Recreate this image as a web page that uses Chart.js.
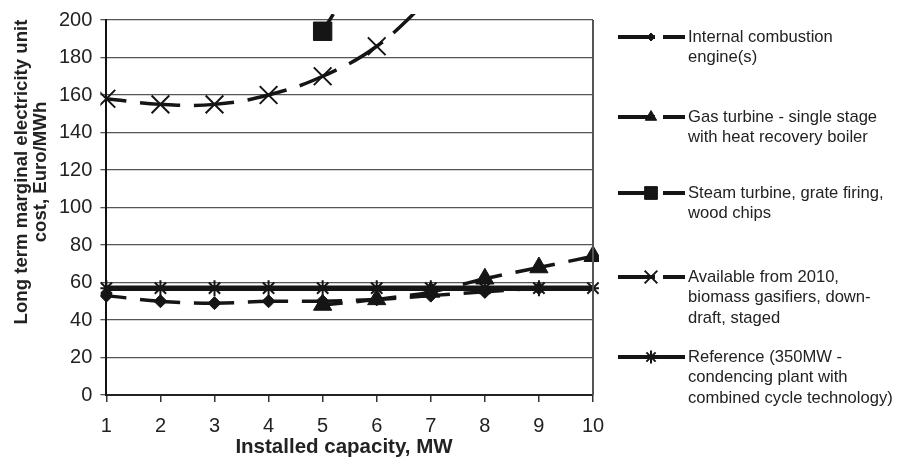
<!DOCTYPE html>
<html>
<head>
<meta charset="utf-8">
<script src="https://cdn.jsdelivr.net/npm/chart.js@4.4.1/dist/chart.umd.min.js"></script>
<style>
    html, body { margin: 0; padding: 0; background: #fff; }
</style>
</head>
<body>
<canvas id="graphCout" width="905" height="459"></canvas>
<script>
// Données
var capacite = ['1', '2', '3', '4', '5', '6', '7', '8', '9', '10'];
var moteur = [53, 50, 49, 50, 50, 51, 53, 55, 57, null];
var turbineGaz = [null, null, null, null, 48, 51, 55, 62, 68, 74];
var turbineVapeur = [null, null, null, null, 194, 240, null, null, null, null];
var gazeifieur = [158, 155, 155, 160, 170, 186, 212, null, null, null];
var reference = [57, 57, 57, 57, 57, 57, 57, 57, 57, 57];

var legendes = [
    ['Internal combustion', 'engine(s)'],
    ['Gas turbine - single stage', 'with heat recovery boiler'],
    ['Steam turbine, grate firing,', 'wood chips'],
    ['Available from 2010,', 'biomass gasifiers, down-', 'draft, staged'],
    ['Reference (350MW -', 'condencing plant with', 'combined cycle technology)']
];
var titreY = ['Long term marginal electricity unit', 'cost, Euro/MWh'];
var titreX = 'Installed capacity, MW';

var noir = '#151515';
var police = '"Liberation Sans", Arial, sans-serif';

//------------------------------------------------------------------------------------------------------------------------
// Légende à droite, titres des axes et bordure droite dessinés à la main
var pluginDecor = {
    id: 'decor',
    afterDraw: function (chart) {
        var ctx = chart.ctx;
        var area = chart.chartArea;
        ctx.save();

        // bordure droite
        ctx.strokeStyle = '#555';
        ctx.lineWidth = 2;
        ctx.beginPath();
        ctx.moveTo(area.right, area.top);
        ctx.lineTo(area.right, area.bottom);
        ctx.stroke();

        // titre axe Y (deux lignes)
        ctx.fillStyle = '#222';
        ctx.font = 'bold 18.6px ' + police;
        ctx.textAlign = 'center';
        ctx.textBaseline = 'middle';
        var xs = [22, 41];
        for (var t = 0; t < titreY.length; t++) {
            ctx.save();
            ctx.translate(xs[t], 172);
            ctx.rotate(-Math.PI / 2);
            ctx.fillText(titreY[t], 0, 0);
            ctx.restore();
        }

        // titre axe X
        ctx.font = 'bold 20.5px ' + police;
        ctx.fillText(titreX, 344, 447);

        // légende
        var ys = [37, 117, 193, 277, 357];
        var tailles = [4, 6.5, 9, 9, 6.5];
        chart.data.datasets.forEach(function (ds, i) {
            var y = ys[i];
            ctx.strokeStyle = noir;
            ctx.lineWidth = 4;
            ctx.setLineDash(ds.borderDash && ds.borderDash.length ? [37, 8] : []);
            ctx.beginPath();
            ctx.moveTo(618, y);
            ctx.lineTo(685, y);
            ctx.stroke();
            ctx.setLineDash([]);

            ctx.fillStyle = noir;
            ctx.strokeStyle = noir;
            ctx.lineWidth = ds.pointBorderWidth;
            Chart.helpers.drawPoint(ctx, {
                pointStyle: ds.pointStyle,
                radius: tailles[i],
                borderWidth: ds.pointBorderWidth,
                rotation: 0
            }, 651, y);

            ctx.fillStyle = '#222';
            ctx.font = '16.6px ' + police;
            ctx.textAlign = 'left';
            ctx.textBaseline = 'middle';
            for (var l = 0; l < legendes[i].length; l++) {
                ctx.fillText(legendes[i][l], 688, y + l * 20.7);
            }
        });
        ctx.restore();
    }
};

function serie(label, data, style, rayon, bord, pointille, epaisseur) {
    return {
        label: label,
        data: data,
        borderColor: noir,
        backgroundColor: noir,
        borderWidth: epaisseur,
        borderDash: pointille ? [40, 14] : [],
        borderDashOffset: pointille ? 20 : 0,
        tension: 0.4,
        pointStyle: style,
        pointRadius: rayon,
        pointHoverRadius: rayon,
        pointBorderWidth: bord,
        pointBackgroundColor: noir,
        pointBorderColor: noir,
        clip: 6
    };
}

function DisplayGraphCout(graphId) {
    var ctx = document.getElementById(graphId).getContext('2d');
    var chart = new Chart(ctx, {
        type: 'line',
        data: {
            labels: capacite,
            datasets: [
                serie(legendes[0].join(' '), moteur, 'rectRot', 6.5, 1, true, 3.5),
                serie(legendes[1].join(' '), turbineGaz, 'triangle', 10.5, 1, true, 3.5),
                serie(legendes[2].join(' '), turbineVapeur, 'rect', 13, 1, true, 3.5),
                serie(legendes[3].join(' '), gazeifieur, 'crossRot', 12.5, 2, true, 3.5),
                serie(legendes[4].join(' '), reference, 'star', 8, 2, false, 5.5)
            ]
        },
        options: {
            responsive: false,
            animation: false,
            layout: {
                padding: { left: 51, right: 312, top: 20, bottom: 9 }
            },
            plugins: {
                legend: { display: false },
                tooltip: { enabled: false }
            },
            scales: {
                x: {
                    type: 'category',
                    offset: false,
                    grid: {
                        display: true,
                        drawOnChartArea: false,
                        drawTicks: true,
                        tickLength: 7,
                        color: '#333',
                        lineWidth: 1.5
                    },
                    border: { display: true, color: '#222', width: 2 },
                    ticks: {
                        color: '#222',
                        padding: 12,
                        maxRotation: 0,
                        font: { family: police, size: 20 }
                    }
                },
                y: {
                    min: 0,
                    max: 200,
                    grid: {
                        color: '#555',
                        lineWidth: 1.3,
                        tickLength: 6
                    },
                    border: { display: true, color: '#111', width: 2 },
                    ticks: {
                        stepSize: 20,
                        color: '#222',
                        padding: 8,
                        font: { family: police, size: 20 }
                    }
                }
            }
        },
        plugins: [pluginDecor]
    });
    return chart;
}

DisplayGraphCout('graphCout');
</script>
</body>
</html>
